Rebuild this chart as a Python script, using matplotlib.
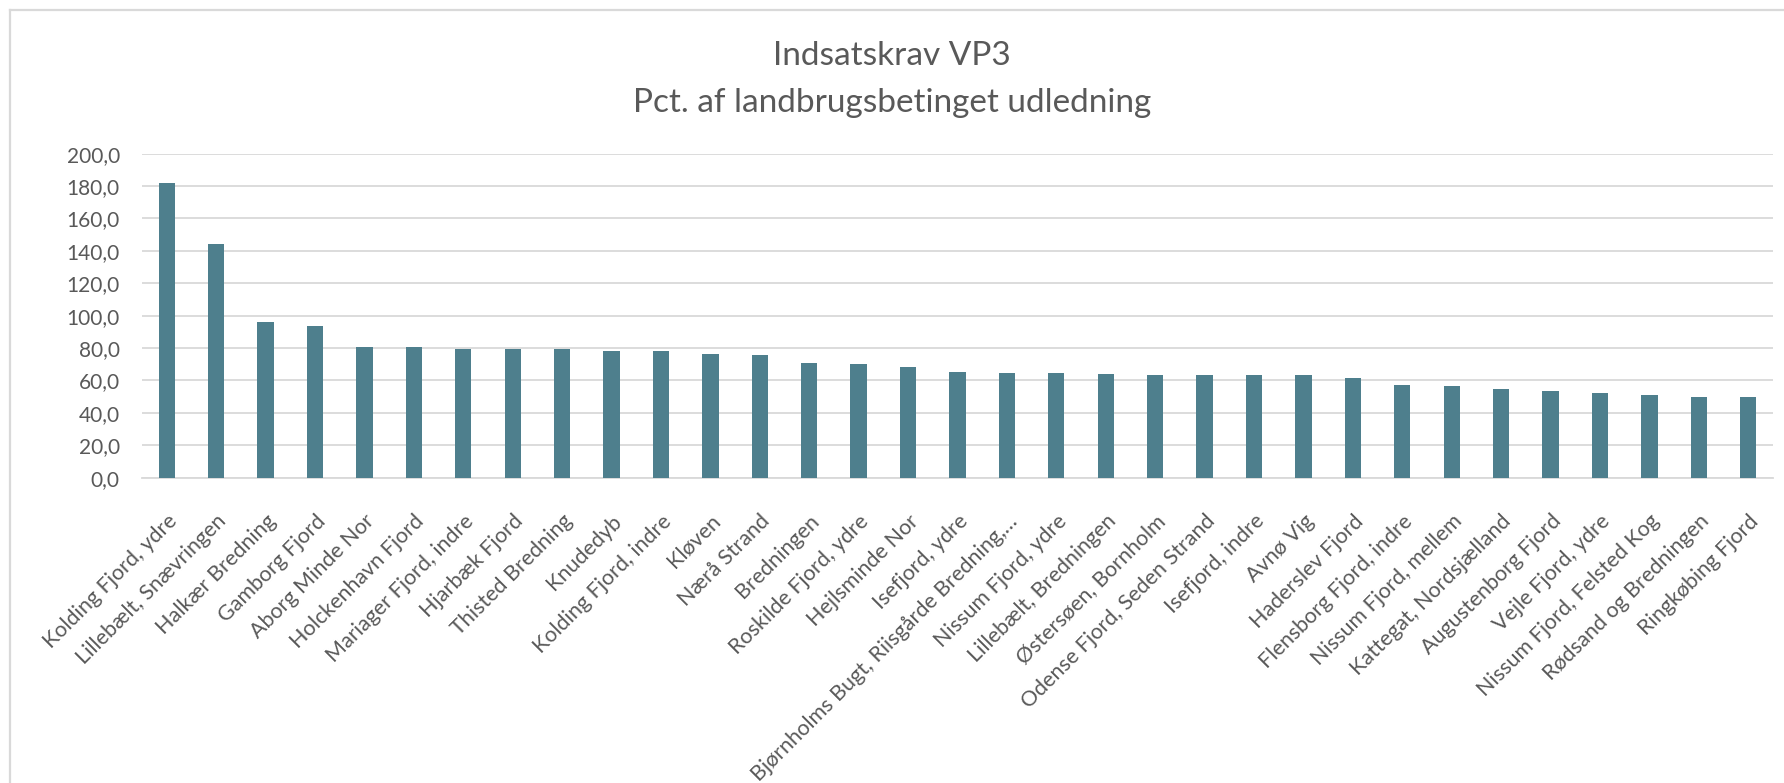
import matplotlib.pyplot as plt
from matplotlib.lines import Line2D
from matplotlib.ticker import FuncFormatter

names = ['Kolding Fjord, ydre', 'Lillebælt, Snævringen', 'Halkær Bredning', 'Gamborg Fjord',
         'Aborg Minde Nor', 'Holckenhavn Fjord', 'Mariager Fjord, indre', 'Hjarbæk Fjord',
         'Thisted Bredning', 'Knudedyb', 'Kolding Fjord, indre', 'Kløven', 'Nærå Strand',
         'Bredningen', 'Roskilde Fjord, ydre', 'Hejlsminde Nor', 'Isefjord, ydre',
         'Bjørnholms Bugt, Riisgårde Bredning,…', 'Nissum Fjord, ydre', 'Lillebælt, Bredningen',
         'Østersøen, Bornholm', 'Odense Fjord, Seden Strand', 'Isefjord, indre', 'Avnø Vig',
         'Haderslev Fjord', 'Flensborg Fjord, indre', 'Nissum Fjord, mellem',
         'Kattegat, Nordsjælland', 'Augustenborg Fjord', 'Vejle Fjord, ydre',
         'Nissum Fjord, Felsted Kog', 'Rødsand og Bredningen', 'Ringkøbing Fjord']
pct = [181.9, 144.2, 96.1, 93.4, 80.7, 80.5, 79.6, 79.2, 79.2, 78.2, 78.2, 76.1, 75.9,
       70.8, 70.4, 68.1, 65.2, 64.6, 64.6, 64.0, 63.6, 63.6, 63.4, 63.2, 61.3, 57.2,
       56.6, 54.7, 53.3, 52.3, 51.0, 49.8, 49.6]

plt.rcParams['font.family'] = ['Lato', 'DejaVu Sans']
grey = '#595959'

fig = plt.figure(figsize=(17.84, 7.83), dpi=100)
# chart area border (only top and left visible in the crop)
fig.add_artist(Line2D([10 / 1784, 1], [1 - 10 / 783, 1 - 10 / 783], color='#D9D9D9', lw=1.6))
fig.add_artist(Line2D([10 / 1784, 10 / 1784], [0, 1 - 10 / 783], color='#D9D9D9', lw=1.6))

ax = fig.add_axes([0.0796, 0.390, 0.9142, 0.4137])

x = range(len(names))
ax.bar(x, pct, width=0.33, color='#4E7F8D', zorder=3)
ax.set_xlim(-0.5, len(names) - 0.5)
ax.set_ylim(0, 200)
ax.set_yticks(range(0, 201, 20))
ax.yaxis.set_major_formatter(FuncFormatter(lambda v, p: f'{v:.1f}'.replace('.', ',')))
ax.grid(axis='y', color='#D9D9D9', linewidth=1.3, zorder=0)
for s in ['top', 'right', 'left']:
    ax.spines[s].set_visible(False)
ax.spines['bottom'].set_color('#D9D9D9')
ax.spines['bottom'].set_linewidth(1.3)
ax.tick_params(axis='both', length=0, colors=grey)
ax.tick_params(axis='y', pad=16, labelsize=15)
ax.tick_params(axis='x', pad=24, labelsize=15.5)
ax.set_xticks(list(x))
ax.set_xticklabels(names, rotation=45, ha='right', rotation_mode='anchor')

fig.text(0.5, 0.917, 'Indsatskrav VP3', ha='center', va='baseline', fontsize=24, color=grey)
fig.text(0.5, 0.857, 'Pct. af landbrugsbetinget udledning', ha='center', va='baseline',
         fontsize=24, color=grey)

plt.savefig('out.png', dpi=100)
